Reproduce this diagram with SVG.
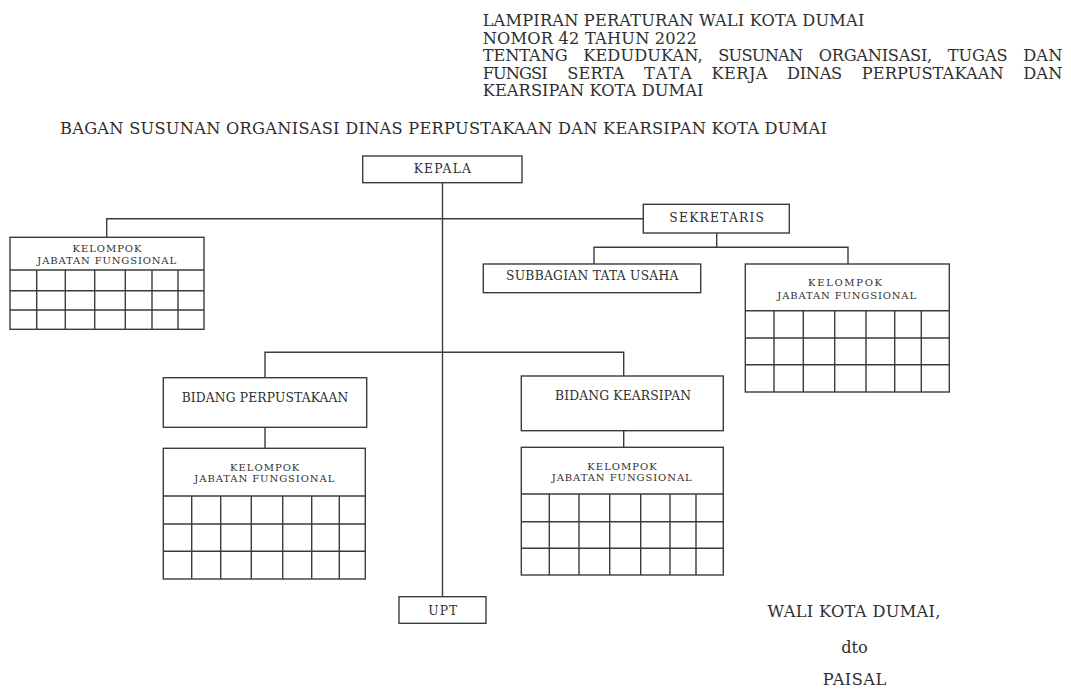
<svg xmlns="http://www.w3.org/2000/svg" width="1071" height="689" viewBox="0 0 1071 689">
<style>
  text { font-family: "DejaVu Serif", "Liberation Serif", serif; fill: #2e2e2e; }
  .hd { font-size: 16.2px; }
  .lb { font-size: 12.3px; text-anchor: middle; }
  .sm { font-size: 10px; text-anchor: middle; }
  .sig { font-size: 16.2px; text-anchor: middle; }
  .box { fill: #fff; stroke: #3c3c3c; stroke-width: 1.4; }
  .grid { fill: none; stroke: #3c3c3c; stroke-width: 1.4; }
  .conn { fill: none; stroke: #3c3c3c; stroke-width: 1.4; }
</style>
<rect width="1071" height="689" fill="#fff"/>

<g id="header">
  <text class="hd" x="482.7" y="26" textLength="381.6" lengthAdjust="spacing">LAMPIRAN PERATURAN WALI KOTA DUMAI</text>
  <text class="hd" x="482.7" y="43.5" textLength="214" lengthAdjust="spacing">NOMOR 42 TAHUN 2022</text>
  <text class="hd" x="482.7" y="61" textLength="85" lengthAdjust="spacing">TENTANG</text>
  <text class="hd" x="583.2" y="61" textLength="119.5" lengthAdjust="spacing">KEDUDUKAN,</text>
  <text class="hd" x="718.2" y="61" textLength="85" lengthAdjust="spacing">SUSUNAN</text>
  <text class="hd" x="818.7" y="61" textLength="113.5" lengthAdjust="spacing">ORGANISASI,</text>
  <text class="hd" x="947.7" y="61" textLength="60" lengthAdjust="spacing">TUGAS</text>
  <text class="hd" x="1023.3" y="61" textLength="39" lengthAdjust="spacing">DAN</text>
  <text class="hd" x="482.7" y="78.5" textLength="65" lengthAdjust="spacing">FUNGSI</text>
  <text class="hd" x="567.3" y="78.5" textLength="57" lengthAdjust="spacing">SERTA</text>
  <text class="hd" x="643.9" y="78.5" textLength="48" lengthAdjust="spacing">TATA</text>
  <text class="hd" x="711.5" y="78.5" textLength="56" lengthAdjust="spacing">KERJA</text>
  <text class="hd" x="787.1" y="78.5" textLength="55" lengthAdjust="spacing">DINAS</text>
  <text class="hd" x="861.7" y="78.5" textLength="142" lengthAdjust="spacing">PERPUSTAKAAN</text>
  <text class="hd" x="1023.3" y="78.5" textLength="39" lengthAdjust="spacing">DAN</text>
  <text class="hd" x="482.7" y="96" textLength="220.7" lengthAdjust="spacing">KEARSIPAN KOTA DUMAI</text>
  <text class="hd" x="60" y="134" textLength="767" lengthAdjust="spacing">BAGAN SUSUNAN ORGANISASI DINAS PERPUSTAKAAN DAN KEARSIPAN KOTA DUMAI</text>
</g>

<g id="connectors">
  <line class="conn" x1="442.5" y1="182.7" x2="442.5" y2="596.7"/>
  <polyline class="conn" points="106.7,237.3 106.7,218.7 643.3,218.7"/>
  <line class="conn" x1="716.7" y1="233.3" x2="716.7" y2="247.3"/>
  <polyline class="conn" points="594,264 594,247.3 848,247.3 848,264"/>
  <polyline class="conn" points="265,377.7 265,352.3 623.7,352.3 623.7,376"/>
  <line class="conn" x1="265" y1="427.3" x2="265" y2="448.3"/>
  <line class="conn" x1="623.7" y1="430.7" x2="623.7" y2="447.3"/>
</g>

<g id="kepala">
  <rect class="box" x="362.7" y="156" width="159.3" height="26.7"/>
  <text class="lb" x="442.3" y="173.3" textLength="57.3" lengthAdjust="spacing">KEPALA</text>
</g>

<g id="sekretaris">
  <rect class="box" x="643.3" y="204.3" width="146" height="28.7"/>
  <text class="lb" x="716.7" y="222.3" textLength="94.7" lengthAdjust="spacing">SEKRETARIS</text>
</g>

<g id="subbagian-tata-usaha">
  <rect class="box" x="483.3" y="264" width="217.4" height="28.7"/>
  <text class="lb" x="592.2" y="280" textLength="172.3" lengthAdjust="spacing">SUBBAGIAN TATA USAHA</text>
</g>

<g id="jf-kepala">
  <rect class="box" x="10" y="237.3" width="194" height="92"/>
  <path class="grid" d="M10,270H204M10,290.7H204M10,310H204M36.7,270V329.3M65.3,270V329.3M94.7,270V329.3M125.3,270V329.3M152,270V329.3M178,270V329.3"/>
  <text class="sm" x="107" y="252.3" textLength="69" lengthAdjust="spacing">KELOMPOK</text>
  <text class="sm" x="106.7" y="264" textLength="138.7" lengthAdjust="spacing">JABATAN FUNGSIONAL</text>
</g>

<g id="jf-sekretaris">
  <rect class="box" x="745.3" y="264" width="204" height="128"/>
  <path class="grid" d="M745.3,310.7H949.3M745.3,338H949.3M745.3,364.7H949.3M774,310.7V392M803.3,310.7V392M834.7,310.7V392M866,310.7V392M894.7,310.7V392M921.3,310.7V392"/>
  <text class="sm" x="845" y="285.7" textLength="74" lengthAdjust="spacing">KELOMPOK</text>
  <text class="sm" x="846.7" y="299.3" textLength="138.7" lengthAdjust="spacing">JABATAN FUNGSIONAL</text>
</g>

<g id="bidang-perpustakaan">
  <rect class="box" x="163.3" y="377.7" width="203.4" height="49.6"/>
  <text class="lb" x="265" y="402.3" textLength="166.7" lengthAdjust="spacing">BIDANG PERPUSTAKAAN</text>
</g>

<g id="jf-perpustakaan">
  <rect class="box" x="163.3" y="448.3" width="202" height="130.7"/>
  <path class="grid" d="M163.3,496H365.3M163.3,524H365.3M163.3,551.3H365.3M191.7,496V579M220.7,496V579M251.3,496V579M282.7,496V579M311.7,496V579M339.3,496V579"/>
  <text class="sm" x="264.7" y="470.7" textLength="69.3" lengthAdjust="spacing">KELOMPOK</text>
  <text class="sm" x="264.3" y="482.3" textLength="140" lengthAdjust="spacing">JABATAN FUNGSIONAL</text>
</g>

<g id="bidang-kearsipan">
  <rect class="box" x="521.3" y="376" width="202" height="54.7"/>
  <text class="lb" x="623" y="400" textLength="136" lengthAdjust="spacing">BIDANG KEARSIPAN</text>
</g>

<g id="jf-kearsipan">
  <rect class="box" x="521.3" y="447.3" width="202" height="127.7"/>
  <path class="grid" d="M521.3,494H723.3M521.3,521.7H723.3M521.3,548.3H723.3M549.3,494V575M579,494V575M609.7,494V575M640.7,494V575M670,494V575M696,494V575"/>
  <text class="sm" x="622" y="470" textLength="69.3" lengthAdjust="spacing">KELOMPOK</text>
  <text class="sm" x="621.7" y="481.3" textLength="140" lengthAdjust="spacing">JABATAN FUNGSIONAL</text>
</g>

<g id="upt">
  <rect class="box" x="399" y="596.7" width="87" height="26.6"/>
  <text class="lb" x="442.8" y="615" textLength="29" lengthAdjust="spacing">UPT</text>
</g>

<g id="signature">
  <text class="sig" x="854" y="617" textLength="173" lengthAdjust="spacing">WALI KOTA DUMAI,</text>
  <text class="sig" x="854.5" y="653">dto</text>
  <text class="sig" x="854.5" y="685" textLength="63.4" lengthAdjust="spacing">PAISAL</text>
</g>
</svg>
